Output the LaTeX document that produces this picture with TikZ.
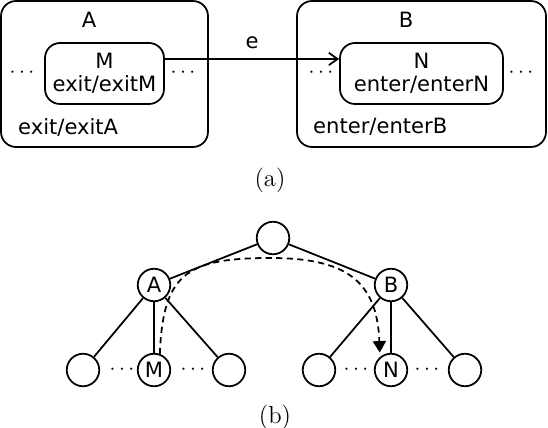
\documentclass[tikz,border=0pt]{standalone}
\usepackage{fontspec}
\setsansfont{DejaVu Sans}
\usetikzlibrary{arrows.meta, positioning}

\begin{document}
\begin{tikzpicture}[
    x=0.02cm, y=-0.02cm,
    font=\sffamily\fontsize{12}{13}\selectfont,
    outerst/.style={draw, line width=1pt, rounded corners=0.3cm,
                    minimum height=2.92cm},
    innerst/.style={draw, line width=1pt, rounded corners=0.3cm,
                    minimum height=1.22cm, align=center, inner sep=1pt},
    vtx/.style={circle, draw, line width=1pt, minimum size=0.65cm, inner sep=0pt},
    dotst/.style={inner sep=0pt},
    capst/.style={font=\rmfamily\fontsize{14}{16}\selectfont},
    edge/.style={line width=1pt},
    trans/.style={-{Straight Barb[length=5pt,width=7pt]}, line width=1pt},
    dpath/.style={dash pattern=on 3.5pt off 2.5pt, line width=1pt,
                  -{Triangle[length=6.5pt,width=7.5pt]}},
  ]
  \useasboundingbox (0,0) rectangle (548,428);
  %% (a) state machine
  \node[outerst, minimum width=4.14cm] (boxA) at (104.5,74) {};
  \node[outerst, minimum width=4.98cm] (boxB) at (421.5,74) {};
  \node[innerst, minimum width=2.38cm] (M) at (104.5,73.5) {M\\exit/exitM};
  \node[innerst, minimum width=3.26cm] (N) at (421.5,73.5) {N\\enter/enterN};
  \node (labA) at (89,20) {A};
  \node (labB) at (406,20) {B};
  \node[anchor=west] (actA) at (12,127) {exit/exitA};
  \node[anchor=west] (actB) at (307,127) {enter/enterB};
  \node[dotst] (dA1) at (22,73) {$\cdots$};
  \node[dotst] (dA2) at (183,73) {$\cdots$};
  \node[dotst] (dB1) at (321,73) {$\cdots$};
  \node[dotst] (dB2) at (521,73) {$\cdots$};
  \draw[trans] ([yshift=0.29cm]M.east) -- node[above=2pt] (lbl) {e} ([yshift=0.29cm]N.west);
  \node[capst] (capa) at (270,180) {(a)};
  %% (b) tree
  \node[vtx] (root) at (273,238) {};
  \node[vtx] (a) at (154,285) {A};
  \node[vtx] (b) at (391,285) {B};
  \node[vtx] (a1) at (83,370) {};
  \node[vtx] (m) at (154,370) {M};
  \node[vtx] (a3) at (229,370) {};
  \node[vtx] (b1) at (319,370) {};
  \node[vtx] (n) at (391,370) {N};
  \node[vtx] (b3) at (465,370) {};
  \node[dotst] (d1) at (122,370) {$\cdots$};
  \node[dotst] (d2) at (193,370) {$\cdots$};
  \node[dotst] (d3) at (356,370) {$\cdots$};
  \node[dotst] (d4) at (427,370) {$\cdots$};
  \draw[edge] (root) -- (a);
  \draw[edge] (root) -- (b);
  \foreach \c in {a1,m,a3} \draw[edge] (a) -- (\c);
  \foreach \c in {b1,n,b3} \draw[edge] (b) -- (\c);
  \coordinate (top) at (270,258);
  \draw[dpath, shorten >=2.5pt] (m.70) .. controls (163,275) and (185,258) .. (top)
    .. controls (345,258) and (377,280) .. (n.130);
  \node[capst] (capb) at (275,417) {(b)};
\end{tikzpicture}
\end{document}
